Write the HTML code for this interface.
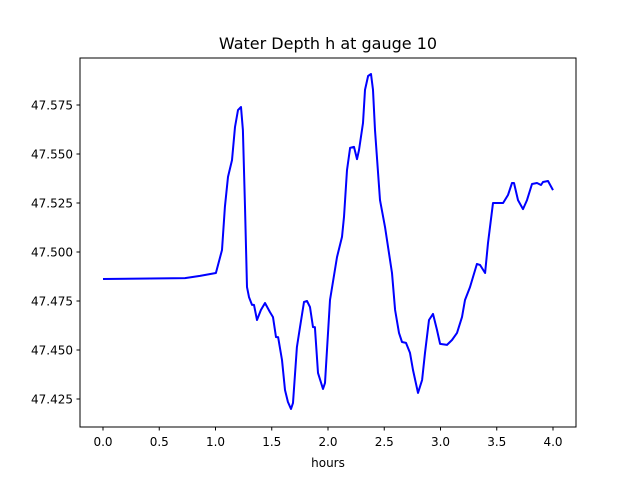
<!DOCTYPE html>
<html><head><meta charset="utf-8"><style>
body{margin:0;background:#fff}
svg text{font-family:"DejaVu Sans","Liberation Sans",sans-serif;fill:#000}
</style></head><body>
<svg id="chart" width="640" height="480" xmlns="http://www.w3.org/2000/svg">
<rect width="640" height="480" fill="#fff"/>
<text x="328" y="49" font-size="16" text-anchor="middle">Water Depth h at gauge 10</text>
<text x="328" y="467" font-size="12" text-anchor="middle">hours</text>
<g id="ticks"></g>
<path id="series" fill="none" stroke="#0000ff" stroke-width="2" stroke-linejoin="round"/>
<rect x="80" y="58" width="496" height="369" fill="none" stroke="#000" stroke-width="1"/>
</svg>
<script>
const hours=[0,0.729,0.862,1.004,1.058,1.084,1.111,1.147,1.173,1.2,1.227,1.244,1.262,1.28,1.298,1.324,1.342,1.369,1.404,1.44,1.484,1.511,1.538,1.556,1.591,1.618,1.644,1.671,1.689,1.724,1.751,1.787,1.813,1.84,1.867,1.884,1.911,1.956,1.973,2.018,2.08,2.124,2.142,2.169,2.196,2.231,2.258,2.276,2.311,2.329,2.356,2.382,2.4,2.418,2.462,2.507,2.569,2.596,2.631,2.658,2.693,2.729,2.756,2.8,2.836,2.862,2.898,2.933,2.969,2.996,3.058,3.102,3.147,3.191,3.218,3.262,3.324,3.351,3.396,3.422,3.467,3.502,3.556,3.6,3.636,3.653,3.689,3.733,3.769,3.813,3.858,3.893,3.911,3.956,4.0];
const depth=[47.4862,47.4867,47.4878,47.4893,47.5010,47.5230,47.5383,47.5469,47.5638,47.5724,47.5740,47.5622,47.5230,47.4821,47.4770,47.4730,47.4730,47.4653,47.4704,47.4740,47.4694,47.4668,47.4566,47.4566,47.4449,47.4296,47.4235,47.4199,47.4230,47.4515,47.4617,47.4745,47.4750,47.4719,47.4617,47.4617,47.4383,47.4301,47.4332,47.4755,47.4974,47.5077,47.5179,47.5418,47.5531,47.5536,47.5474,47.5520,47.5658,47.5827,47.5898,47.5908,47.5827,47.5622,47.5265,47.5128,47.4893,47.4704,47.4587,47.4541,47.4536,47.4485,47.4398,47.4281,47.4347,47.4485,47.4653,47.4684,47.4602,47.4531,47.4526,47.4551,47.4587,47.4668,47.4755,47.4821,47.4939,47.4934,47.4893,47.5046,47.5250,47.5250,47.5250,47.5291,47.5352,47.5352,47.5265,47.5219,47.5265,47.5347,47.5352,47.5342,47.5357,47.5362,47.5316];
const xTicks=[0,0.5,1.0,1.5,2.0,2.5,3.0,3.5,4.0];
const xTickLabels=["0.0","0.5","1.0","1.5","2.0","2.5","3.0","3.5","4.0"];
const yTicks=[47.425,47.45,47.475,47.5,47.525,47.55,47.575];
const yTickLabels=["47.425","47.450","47.475","47.500","47.525","47.550","47.575"];
const X=t=>103+t*112.5;
const Y=v=>252-(v-47.5)*1960;
const NS="http://www.w3.org/2000/svg";
const g=document.getElementById('ticks');
xTicks.forEach((t,i)=>{
  const l=document.createElementNS(NS,'line');
  
  
  l.setAttribute('x1',X(t));l.setAttribute('x2',X(t));l.setAttribute('y1',427);l.setAttribute('y2',430.5);l.setAttribute('stroke','#000');
  g.appendChild(l);
  const tx=document.createElementNS(NS,'text');
  
  
  tx.setAttribute('x',X(t));tx.setAttribute('y',446);tx.setAttribute('font-size','12');tx.setAttribute('text-anchor','middle');
  tx.textContent=xTickLabels[i];g.appendChild(tx);
});
yTicks.forEach((v,i)=>{
  const l=document.createElementNS(NS,'line');
  
  
  l.setAttribute('x1',76.5);l.setAttribute('x2',80);l.setAttribute('y1',Y(v));l.setAttribute('y2',Y(v));l.setAttribute('stroke','#000');
  g.appendChild(l);
  const tx=document.createElementNS(NS,'text');
  
  
  tx.setAttribute('x',73);tx.setAttribute('y',Y(v)+4.5);tx.setAttribute('font-size','12');tx.setAttribute('text-anchor','end');
  tx.textContent=yTickLabels[i];g.appendChild(tx);
});
document.getElementById('series').setAttribute('d',hours.map((t,i)=>(i?'L':'M')+X(t).toFixed(1)+','+Y(depth[i]).toFixed(1)).join(''));
</script>
</body></html>
